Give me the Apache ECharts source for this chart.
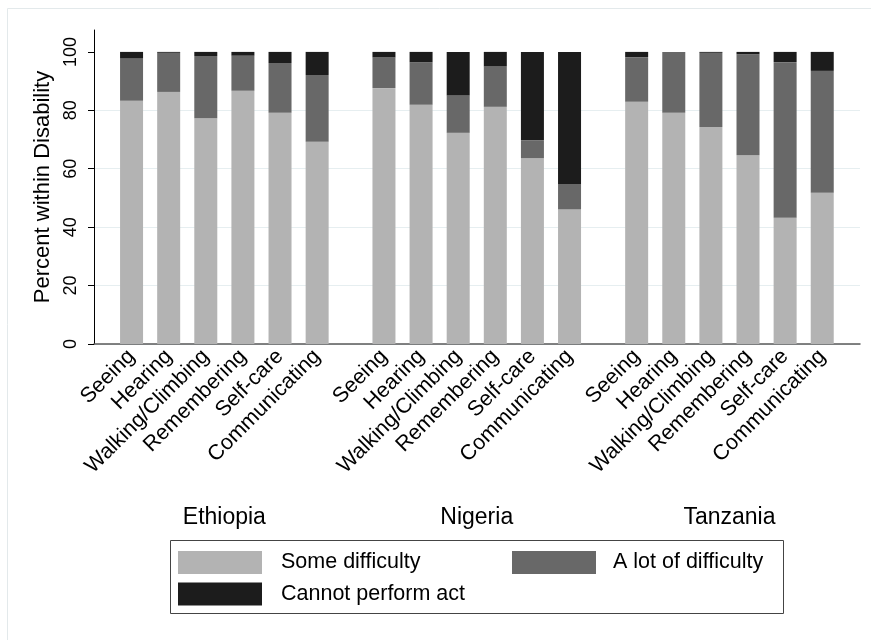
<!DOCTYPE html>
<html>
<head>
<meta charset="utf-8">
<script src="https://cdn.jsdelivr.net/npm/echarts@6/dist/echarts.min.js"></script>
<style>
  html, body { margin: 0; padding: 0; background: #fff; }
  #main { width: 871px; height: 640px; }
</style>
</head>
<body>
<div id="main"></div>
<script>
var countries = ['Ethiopia', 'Nigeria', 'Tanzania'];
var disabilities = ['Seeing', 'Hearing', 'Walking/Climbing', 'Remembering', 'Self-care', 'Communicating'];
var levels = ['Some difficulty', 'A lot of difficulty', 'Cannot perform act'];
var yTicks = [0, 20, 40, 60, 80, 100];

// percent within disability, one array per country and level
var ethiopiaSome = [83.3, 86.3, 77.3, 86.7, 79.2, 69.2];
var ethiopiaLot = [14.4, 13.4, 21.3, 12.0, 17.0, 22.9];
var ethiopiaCannot = [2.3, 0.3, 1.4, 1.3, 3.8, 7.9];

var nigeriaSome = [87.6, 81.9, 72.3, 81.2, 63.6, 46.1];
var nigeriaLot = [10.5, 14.5, 12.9, 13.8, 6.2, 8.7];
var nigeriaCannot = [1.9, 3.6, 14.8, 5.0, 30.2, 45.2];

var tanzaniaSome = [82.9, 79.2, 74.3, 64.6, 43.2, 51.8];
var tanzaniaLot = [15.3, 20.8, 25.4, 34.6, 53.3, 41.7];
var tanzaniaCannot = [1.8, 0.0, 0.3, 0.8, 3.5, 6.5];

var colors = ['#b3b3b3', '#686868', '#1c1c1c'];
var font = "'Liberation Sans', Arial, Helvetica, sans-serif";

var chartDom = document.getElementById('main');
var myChart = echarts.init(chartDom);
var option;

var countryData = [
    [ethiopiaSome, ethiopiaLot, ethiopiaCannot],
    [nigeriaSome, nigeriaLot, nigeriaCannot],
    [tanzaniaSome, tanzaniaLot, tanzaniaCannot]
];
var groupLeft = [113, 365.4, 618.1];
var groupWidth = 222.7;
var yMax = 107.5;

var grids = [{ left: 94, right: 11, top: 30, bottom: 296 }];
var xAxes = [{
    gridIndex: 0,
    type: 'category',
    data: [],
    axisLine: { lineStyle: { color: '#5a5a5a', width: 1.5 } },
    axisTick: { show: false },
    axisLabel: { show: false }
}];
var yAxes = [{
    gridIndex: 0,
    type: 'value',
    min: 0,
    max: yMax,
    interval: 20,
    name: 'Percent within Disability',
    nameLocation: 'middle',
    nameGap: 37,
    nameTextStyle: { fontSize: 22, color: '#000', fontFamily: font },
    axisLine: { show: true, lineStyle: { color: '#000', width: 1 } },
    axisTick: { show: true, inside: false, length: 6, customValues: yTicks, lineStyle: { color: '#000' } },
    axisLabel: { rotate: 90, margin: 14, fontSize: 18, color: '#000', fontFamily: font, customValues: yTicks },
    splitLine: { show: true, showMaxLine: false, lineStyle: { color: '#e6eef0', width: 1 } }
}];
var series = [];

countries.forEach(function (c, i) {
    grids.push({ left: groupLeft[i], width: groupWidth, top: 30, bottom: 296 });
    xAxes.push({
        gridIndex: i + 1,
        type: 'category',
        data: disabilities,
        name: c,
        nameLocation: 'middle',
        nameGap: 162,
        nameTextStyle: { fontSize: 23, color: '#000', fontFamily: font },
        axisLine: { show: false },
        axisTick: { show: false },
        axisLabel: { rotate: 45, margin: 9, fontSize: 21.5, color: '#000', fontFamily: font, interval: 0 }
    });
    yAxes.push({
        gridIndex: i + 1,
        type: 'value',
        min: 0,
        max: yMax,
        show: false
    });
    levels.forEach(function (lv, j) {
        series.push({
            name: lv,
            type: 'bar',
            stack: c,
            xAxisIndex: i + 1,
            yAxisIndex: i + 1,
            barWidth: 23,
            itemStyle: { color: colors[j] },
            data: countryData[i][j]
        });
    });
});

option = {
    animation: false,
    color: colors,
    textStyle: { fontFamily: font },
    grid: grids,
    xAxis: xAxes,
    yAxis: yAxes,
    legend: [
        {
            data: ['Some difficulty', 'Cannot perform act'],
            orient: 'vertical',
            left: 178,
            top: 551,
            padding: 0,
            itemWidth: 84,
            itemHeight: 23,
            itemGap: 8.5,
            icon: 'rect',
            textStyle: { fontSize: 21.5, color: '#000', fontFamily: font, padding: [0, 0, 0, 14] }
        },
        {
            data: ['A lot of difficulty'],
            orient: 'vertical',
            left: 512,
            top: 551,
            padding: 0,
            itemWidth: 84,
            itemHeight: 23,
            icon: 'rect',
            textStyle: { fontSize: 21.5, color: '#000', fontFamily: font, padding: [0, 0, 0, 12] }
        }
    ],
    graphic: [
        {
            type: 'rect',
            shape: { x: 7.5, y: 8.5, width: 900, height: 700 },
            style: { fill: 'none', stroke: '#e3e9eb', lineWidth: 1 },
            silent: true
        },
        {
            type: 'rect',
            shape: { x: 170.5, y: 540.5, width: 613, height: 73 },
            style: { fill: 'none', stroke: '#444', lineWidth: 1 },
            silent: true
        }
    ],
    series: series
};

option && myChart.setOption(option);
</script>
</body>
</html>
